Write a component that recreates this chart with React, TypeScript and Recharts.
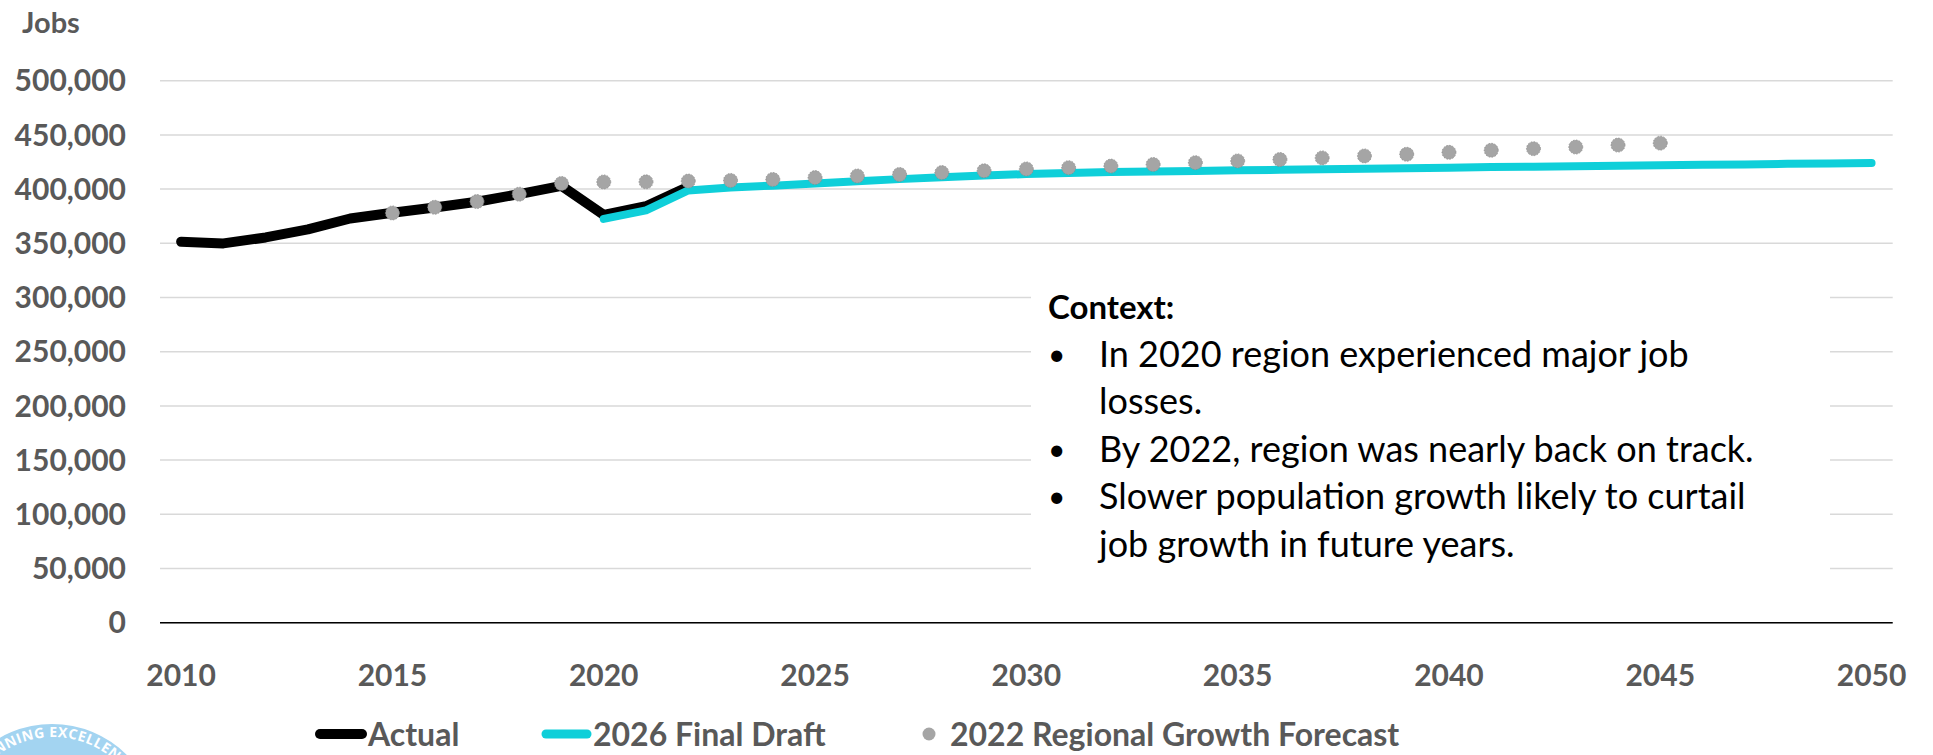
import React from 'react';
import { LineChart, Line, XAxis, YAxis, CartesianGrid } from 'recharts';

const ACTUAL_YEARS = [2010, 2011, 2012, 2013, 2014, 2015, 2016, 2017, 2018, 2019, 2020, 2021, 2022];
const ACTUAL_JOBS = [351400, 349900, 355400, 362800, 372900, 378200, 383100, 388300, 395400, 403000, 376300, 384200, 402200];

const DRAFT_YEARS = [2020, 2021, 2022, 2023, 2024, 2025, 2026, 2027, 2028, 2029, 2030, 2031, 2032, 2033, 2034, 2035, 2036, 2037, 2038, 2039, 2040, 2041, 2042, 2043, 2044, 2045, 2046, 2047, 2048, 2049, 2050];
const DRAFT_JOBS = [372500, 380400, 398800, 401500, 403200, 405200, 407300, 409200, 410900, 412500, 413900, 414800, 415700, 416300, 416800, 417300, 417800, 418300, 418800, 419300, 419800, 420300, 420700, 421100, 421500, 421900, 422400, 422800, 423300, 423700, 424100];

const RGF_YEARS = [2015, 2016, 2017, 2018, 2019, 2020, 2021, 2022, 2023, 2024, 2025, 2026, 2027, 2028, 2029, 2030, 2031, 2032, 2033, 2034, 2035, 2036, 2037, 2038, 2039, 2040, 2041, 2042, 2043, 2044, 2045];
const RGF_JOBS = [378000, 383200, 388500, 395300, 405200, 406600, 406700, 407400, 408000, 408900, 410600, 412100, 413500, 415200, 416900, 418600, 419800, 421200, 422700, 424400, 426000, 427300, 428800, 430600, 432100, 433900, 435800, 437300, 438800, 440600, 442400];

const X_TICKS = [2010, 2015, 2020, 2025, 2030, 2035, 2040, 2045, 2050];
const Y_TICKS = [0, 50000, 100000, 150000, 200000, 250000, 300000, 350000, 400000, 450000, 500000];

const SERIES_NAMES = ['Actual', '2026 Final Draft', '2022 Regional Growth Forecast'];
const CONTEXT_TITLE = 'Context:';
const CONTEXT_LINES = [
  ['In 2020 region experienced major job', 'losses.'],
  ['By 2022, region was nearly back on track.'],
  ['Slower population growth likely to curtail', 'job growth in future years.'],
];
const LOGO_TEXT = 'PLANNING EXCELLENCE';

const COLORS = { actual: '#000000', draft: '#0fcfd9', rgf: '#a5a5a5' };
const FONT = 'Lato, "Open Sans", sans-serif';

function buildData() {
  const rows = new Map<number, any>();
  const add = (years: number[], vals: number[], key: string) => {
    years.forEach((y, i) => {
      const r = rows.get(y) ?? { year: y };
      r[key] = vals[i];
      rows.set(y, r);
    });
  };
  add(ACTUAL_YEARS, ACTUAL_JOBS, 'actual');
  add(DRAFT_YEARS, DRAFT_JOBS, 'draft');
  add(RGF_YEARS, RGF_JOBS, 'rgf');
  return [...rows.values()].sort((a, b) => a.year - b.year);
}

const DATA = buildData();

const tickStyle = { fill: '#595959', fontSize: 30, fontWeight: 700, fontFamily: FONT };

export default function App() {
  const bodyFont = { fontFamily: FONT, fontSize: 36, fill: '#000' };
  let lineIdx = 0;
  const baselines = [366.7, 413.8, 461.5, 509.3, 556.7];
  return (
    <div style={{ position: 'absolute', left: 0, top: 0, width: 1933, height: 755, background: '#fff', overflow: 'hidden' }}>
      <LineChart
        width={1933}
        height={755}
        data={DATA}
        margin={{ top: 80.7, right: 40.3, bottom: 72.3, left: 0 }}
      >
        <CartesianGrid horizontal vertical={false} stroke="#d9d9d9" strokeWidth={1.5} />
        <XAxis
          dataKey="year"
          type="number"
          domain={[2009.5, 2050.5]}
          ticks={X_TICKS}
          allowDataOverflow
          height={60}
          tickLine={false}
          tickSize={0}
          tickMargin={42}
          axisLine={{ stroke: '#000', strokeWidth: 1.5 }}
          tick={tickStyle}
          interval={0}
        />
        <YAxis
          type="number"
          domain={[0, 500000]}
          ticks={Y_TICKS}
          width={160}
          tickLine={false}
          tickSize={0}
          tickMargin={34}
          axisLine={false}
          tick={tickStyle}
          interval={0}
          tickFormatter={(v: number) => v.toLocaleString('en-US')}
        />
        <Line
          dataKey="actual"
          name={SERIES_NAMES[0]}
          type="linear"
          stroke={COLORS.actual}
          strokeWidth={10}
          strokeLinecap="round"
          strokeLinejoin="round"
          dot={false}
          activeDot={false}
          isAnimationActive={false}
        />
        <Line
          dataKey="draft"
          name={SERIES_NAMES[1]}
          type="linear"
          stroke={COLORS.draft}
          strokeWidth={8}
          strokeLinecap="round"
          strokeLinejoin="round"
          dot={false}
          activeDot={false}
          isAnimationActive={false}
        />
        <Line
          dataKey="rgf"
          name={SERIES_NAMES[2]}
          type="linear"
          stroke="none"
          strokeWidth={0}
          dot={{ r: 7, fill: COLORS.rgf, stroke: '#8a8a8a', strokeWidth: 0.8, strokeDasharray: '1.5 1.5' }}
          activeDot={false}
          isAnimationActive={false}
        />
      </LineChart>
      <svg
        width={1933}
        height={755}
        style={{ position: 'absolute', left: 0, top: 0, pointerEvents: 'none' }}
      >
        <text x={22} y={33} style={{ fontFamily: FONT, fontSize: 29, fontWeight: 700, fill: '#595959' }}>Jobs</text>

        <rect x={1031} y={286} width={799} height={300} fill="#fff" />
        <text x={1048} y={319.3} style={{ fontFamily: FONT, fontSize: 33, fontWeight: 700, fill: '#000' }}>{CONTEXT_TITLE}</text>
        {CONTEXT_LINES.map((group, gi) =>
          group.map((line, li) => {
            const y = baselines[lineIdx++];
            return (
              <g key={`${gi}-${li}`}>
                {li === 0 && <text x={1048} y={y - 2} style={{ ...bodyFont, fontSize: 30 }}>•</text>}
                <text x={1099} y={y} style={bodyFont}>{line}</text>
              </g>
            );
          })
        )}

        {/* legend */}
        <line x1={320} y1={734} x2={362} y2={734} stroke={COLORS.actual} strokeWidth={10} strokeLinecap="round" />
        <text x={368} y={745.5} style={{ fontFamily: FONT, fontSize: 32, fontWeight: 700, fill: '#595959' }}>{SERIES_NAMES[0]}</text>
        <line x1={546} y1={734} x2={587} y2={734} stroke={COLORS.draft} strokeWidth={9} strokeLinecap="round" />
        <text x={593} y={745.5} style={{ fontFamily: FONT, fontSize: 32, fontWeight: 700, fill: '#595959' }}>{SERIES_NAMES[1]}</text>
        <circle cx={929} cy={734} r={6.5} fill={COLORS.rgf} />
        <text x={950} y={745.5} style={{ fontFamily: FONT, fontSize: 32, fontWeight: 700, fill: '#595959' }}>{SERIES_NAMES[2]}</text>

        {/* logo */}
        <defs>
          <path id="logoArc" d="M -40 830 A 93 93 0 0 1 146 830" />
        </defs>
        <circle cx={52} cy={830} r={106} fill="#a3d4f1" />
        <text style={{ fontFamily: '"Open Sans", sans-serif', fontSize: 14, fontWeight: 700, fill: '#ffffff', letterSpacing: 0.5 }}>
          <textPath href="#logoArc" startOffset="50%" textAnchor="middle">{LOGO_TEXT}</textPath>
        </text>
      </svg>
    </div>
  );
}
